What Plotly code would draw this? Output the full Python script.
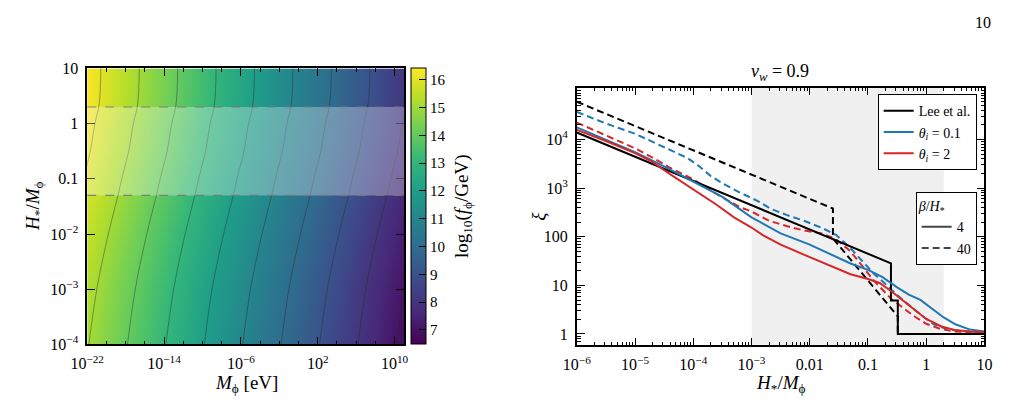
import plotly.graph_objects as go

W, H = 1011, 410
SERIF = "Liberation Serif"


def fx(p):
    return p / W


def fy(p):
    return 1 - p / H


# ---------------- Left panel data ----------------
log_m = [-24, -18, -14, -10, -6, -2, 2, 6, 10, 13]          # log10(M_phi / eV)
log_hm = [-4.5, -3, -2, -1.3, -1, -0.5, 0, 0.3, 0.6, 1.5]   # log10(H*/M_phi)
log_f = [
    [15.45, 13.95, 12.95, 11.95, 10.95, 9.95, 8.95, 7.95, 6.95, 6.20],
    [15.75, 14.25, 13.25, 12.25, 11.25, 10.25, 9.25, 8.25, 7.25, 6.50],
    [16.05, 14.55, 13.55, 12.55, 11.55, 10.55, 9.55, 8.55, 7.55, 6.80],
    [16.30, 14.80, 13.80, 12.80, 11.80, 10.80, 9.80, 8.80, 7.80, 7.05],
    [16.40, 14.90, 13.90, 12.90, 11.90, 10.90, 9.90, 8.90, 7.90, 7.15],
    [16.58, 15.08, 14.08, 13.08, 12.08, 11.08, 10.08, 9.08, 8.08, 7.33],
    [16.70, 15.20, 14.20, 13.20, 12.20, 11.20, 10.20, 9.20, 8.20, 7.45],
    [16.80, 15.30, 14.30, 13.30, 12.30, 11.30, 10.30, 9.30, 8.30, 7.55],
    [16.84, 15.34, 14.34, 13.34, 12.34, 11.34, 10.34, 9.34, 8.34, 7.59],
    [16.86, 15.36, 14.36, 13.36, 12.36, 11.36, 10.36, 9.36, 8.36, 7.61],
]
band_low, band_high = 0.05, 2.0
cbar_ticks = [7, 8, 9, 10, 11, 12, 13, 14, 15, 16]
left_xticks = [-22, -14, -6, 2, 10]
left_xlabels = ["10<sup>−22</sup>", "10<sup>−14</sup>", "10<sup>−6</sup>", "10<sup>2</sup>", "10<sup>10</sup>"]
left_yticks = [-4, -3, -2, -1, 0, 1]
left_ylabels = ["10<sup>−4</sup>", "10<sup>−3</sup>", "10<sup>−2</sup>", "0.1", "1", "10"]

# ---------------- Right panel data ----------------
lee4_x = [1e-6, 0.248, 0.248, 0.325, 0.325, 10]
lee4_xi = [14000, 28.4, 4.9, 4.9, 1, 1]
lee40_x = [1e-6, 0.025, 0.025, 0.325, 0.325, 10]
lee40_xi = [60000, 381, 93, 2.3, 1, 1]

b4_lx = [-6, -5.5, -5, -4.5, -4, -3.5, -3.0, -2.8, -2.5, -2.0, -1.5, -1.3, -1.0, -0.75, -0.5, -0.3, -0.1, 0.1, 0.3, 0.5, 0.75, 1.0]
b4_ly = [4.25, 4.00, 3.74, 3.45, 3.13, 2.82, 2.40, 2.27, 2.07, 1.84, 1.56, 1.45, 1.32, 1.17, 0.96, 0.81, 0.70, 0.52, 0.34, 0.20, 0.09, 0.05]

r4_lx = [-6, -5.5, -5.0, -4.7, -4.4, -4.0, -3.6, -3.3, -3.0, -2.8, -2.5, -2.0, -1.5, -1.3, -1.0, -0.8, -0.6, -0.4, -0.2, 0.0, 0.25, 0.5, 0.75, 1.0]
r4_ly = [4.20, 3.97, 3.72, 3.54, 3.29, 2.97, 2.66, 2.40, 2.19, 2.03, 1.84, 1.58, 1.33, 1.23, 1.13, 1.05, 0.88, 0.68, 0.50, 0.31, 0.16, 0.08, 0.05, 0.04]

r40_lx = [-6, -5.5, -5.0, -4.7, -4.4, -4.0, -3.6, -3.2, -3.0, -2.7, -2.4, -2.1, -1.8, -1.55, -1.3, -1.1, -0.9, -0.75, -0.6, -0.4, -0.2, 0.0, 0.25, 0.5, 0.75, 1.0]
r40_ly = [4.35, 4.08, 3.82, 3.63, 3.42, 3.18, 2.88, 2.61, 2.52, 2.33, 2.22, 2.13, 2.07, 1.95, 1.70, 1.40, 1.10, 0.91, 0.72, 0.54, 0.36, 0.21, 0.10, 0.05, 0.04, 0.03]

b40_lx = [-6, -5.5, -5.0, -4.5, -4.1, -3.9, -3.7, -3.5, -3.2, -2.9, -2.66, -2.4, -2.1, -1.77, -1.55, -1.32, -1.1, -0.9, -0.7, -0.5, -0.25, -0.1, 0.13, 0.35, 0.6, 1.0]
b40_ly = [4.57, 4.33, 4.12, 3.84, 3.62, 3.45, 3.25, 3.10, 2.91, 2.74, 2.57, 2.45, 2.33, 2.17, 2.04, 1.79, 1.50, 1.24, 1.03, 0.80, 0.55, 0.40, 0.20, 0.10, 0.06, 0.03]

shade_x = [1e-3, 2.0]
right_xticks = [1e-6, 1e-5, 1e-4, 1e-3, 1e-2, 1e-1, 1, 10]
right_xlabels = ["10<sup>−6</sup>", "10<sup>−5</sup>", "10<sup>−4</sup>", "10<sup>−3</sup>", "0.01", "0.1", "1", "10"]
right_yticks = [1, 10, 100, 1000, 10000]
right_ylabels = ["1", "10", "100", "10<sup>3</sup>", "10<sup>4</sup>"]

BLUE = "#1f77b4"
RED = "#d62728"
DASH = "7px,4px"


def p10(v):
    return [10 ** a for a in v]


fig = go.Figure()

# ---- left heatmap ----
fig.add_trace(go.Heatmap(
    x=log_m, y=log_hm, z=log_f, zsmooth="best", colorscale="Viridis",
    zmin=6.48, zmax=16.41, xaxis="x", yaxis="y", showlegend=False,
    colorbar=dict(
        x=fx(404), xanchor="left", y=(fy(63) + fy(351)) / 2, yanchor="middle",
        len=(351 - 63) / H, lenmode="fraction", thickness=15, thicknessmode="pixels",
        xpad=0, ypad=0, outlinecolor="black", outlinewidth=1,
        tickvals=cbar_ticks, ticks="inside", ticklen=7, tickcolor="black",
        tickfont=dict(family=SERIF, size=15, color="black"),
    ),
))
fig.add_trace(go.Contour(
    x=log_m, y=log_hm, z=log_f, xaxis="x", yaxis="y", showscale=False, showlegend=False,
    contours=dict(coloring="none", start=7, end=16, size=1),
    line=dict(color="rgba(40,40,40,0.42)", width=1), hoverinfo="skip",
))

# ---- right lines ----
fig.add_trace(go.Scatter(x=lee40_x, y=lee40_xi, mode="lines", line=dict(color="black", width=2, dash=DASH),
                         xaxis="x2", yaxis="y2", showlegend=False))
fig.add_trace(go.Scatter(x=p10(b40_lx), y=p10(b40_ly), mode="lines", line=dict(color=BLUE, width=2, dash=DASH),
                         xaxis="x2", yaxis="y2", showlegend=False))
fig.add_trace(go.Scatter(x=p10(r40_lx), y=p10(r40_ly), mode="lines", line=dict(color=RED, width=2, dash=DASH),
                         xaxis="x2", yaxis="y2", showlegend=False))
fig.add_trace(go.Scatter(x=lee4_x, y=lee4_xi, mode="lines", line=dict(color="black", width=2),
                         xaxis="x2", yaxis="y2", name="Lee et al.", legend="legend"))
fig.add_trace(go.Scatter(x=p10(b4_lx), y=p10(b4_ly), mode="lines", line=dict(color=BLUE, width=2),
                         xaxis="x2", yaxis="y2", name="<i>θ</i><sub><i>i</i></sub> = 0.1", legend="legend"))
fig.add_trace(go.Scatter(x=p10(r4_lx), y=p10(r4_ly), mode="lines", line=dict(color=RED, width=2),
                         xaxis="x2", yaxis="y2", name="<i>θ</i><sub><i>i</i></sub> = 2", legend="legend"))
# style legend entries
fig.add_trace(go.Scatter(x=[None], y=[None], mode="lines", line=dict(color="#444444", width=2),
                         xaxis="x2", yaxis="y2", name="4", legend="legend2"))
fig.add_trace(go.Scatter(x=[None], y=[None], mode="lines", line=dict(color="#444444", width=2, dash=DASH),
                         xaxis="x2", yaxis="y2", name="40", legend="legend2"))

axis_common = dict(showline=True, linecolor="black", linewidth=1.5, mirror="allticks",
                   ticks="inside", tickcolor="black", showgrid=False, zeroline=False,
                   ticklabelstandoff=4,
                   tickfont=dict(family=SERIF, size=16, color="black"))

shapes = [
    dict(type="rect", xref="x domain", yref="y", x0=0, x1=1,
         y0=-1.30103, y1=0.30103, fillcolor="rgba(255,255,255,0.3)", line=dict(width=0), layer="above"),
    dict(type="line", xref="x domain", yref="y", x0=0, x1=1, y0=-1.30103, y1=-1.30103,
         line=dict(color="rgba(120,120,120,0.9)", width=1.2, dash="dash"), layer="above"),
    dict(type="line", xref="x domain", yref="y", x0=0, x1=1, y0=0.30103, y1=0.30103,
         line=dict(color="rgba(120,120,120,0.9)", width=1.2, dash="dash"), layer="above"),
    dict(type="rect", xref="x2", yref="y2 domain", x0=shade_x[0], x1=shade_x[1], y0=0, y1=1,
         fillcolor="#f0f0f0", line=dict(width=0), layer="below"),
]


def ann(text, x, y, size=18, angle=0):
    return dict(text=text, x=fx(x), y=fy(y), xref="paper", yref="paper", xanchor="center", yanchor="middle",
                showarrow=False, textangle=angle, font=dict(family=SERIF, size=size, color="black"))


annotations = [
    ann("<i>M</i><sub>ϕ</sub> [eV]", 235, 392, 19),
    ann("<i>H</i><sub>*</sub>/<i>M</i><sub>ϕ</sub>", 18, 207, 19, -90),
    ann("log<sub>10</sub>(<i>f</i><sub>ϕ</sub>/GeV)", 458, 207, 19, -90),
    ann("<i>H</i><sub>*</sub>/<i>M</i><sub>ϕ</sub>", 783, 392, 19),
    ann("<i>ξ</i>", 534, 217, 19, -90),
    ann("<i>v</i><sub><i>w</i></sub> = 0.9", 782, 67, 18),
    ann("10", 990, 15, 16),
]

fig.update_layout(
    width=W, height=H, margin=dict(l=0, r=0, t=0, b=0),
    paper_bgcolor="white", plot_bgcolor="white",
    font=dict(family=SERIF, color="black"),
    xaxis=dict(domain=[fx(72), fx(397)], range=[-22, 11], anchor="y",
               tickmode="array", tickvals=left_xticks, ticktext=left_xlabels, ticklen=8,
               minor=dict(tick0=-22, dtick=2, ticks="inside", ticklen=4, tickcolor="black"),
               **axis_common),
    yaxis=dict(domain=[fy(351), fy(63)], range=[-4, 1], anchor="x",
               tickmode="array", tickvals=left_yticks, ticktext=left_ylabels, ticklen=8,
               **axis_common),
    xaxis2=dict(domain=[fx(574), fx(992)], type="log", range=[-6, 1], anchor="y2",
                tickmode="array", tickvals=right_xticks, ticktext=right_xlabels, ticklen=8,
                minor=dict(dtick="D1", ticks="inside", ticklen=4, tickcolor="black"),
                **axis_common),
    yaxis2=dict(domain=[fy(352), fy(83)], type="log", range=[-0.235, 5.07], anchor="x2",
                tickmode="array", tickvals=right_yticks, ticktext=right_ylabels, ticklen=8,
                minor=dict(dtick="D1", ticks="inside", ticklen=4, tickcolor="black"),
                **axis_common),
    legend=dict(x=fx(984), xanchor="right", y=fy(90), yanchor="top", bgcolor="white",
                bordercolor="black", borderwidth=1, font=dict(family=SERIF, size=14, color="black"),
                tracegroupgap=0, itemwidth=30),
    legend2=dict(x=fx(984), xanchor="right", y=fy(192), yanchor="top", bgcolor="white",
                 bordercolor="black", borderwidth=1, font=dict(family=SERIF, size=14, color="black"),
                 title=dict(text="<i>β</i>/<i>H</i><sub>*</sub>", font=dict(family=SERIF, size=14)),
                 tracegroupgap=0, itemwidth=30),
    shapes=shapes, annotations=annotations,
)

fig.write_html("out.html")
